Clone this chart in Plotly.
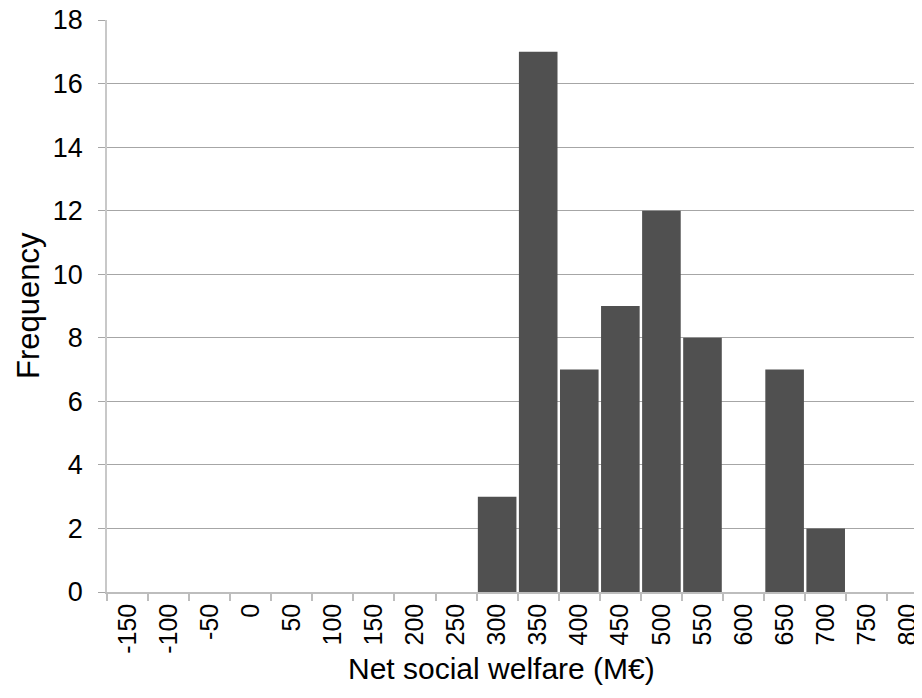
import plotly.graph_objects as go

categories = ["-150", "-100", "-50", "0", "50", "100", "150", "200", "250", "300",
              "350", "400", "450", "500", "550", "600", "650", "700", "750", "800"]
frequency = [0, 0, 0, 0, 0, 0, 0, 0, 0, 3, 17, 7, 9, 12, 8, 0, 7, 2, 0, 0]
y_ticks = [0, 2, 4, 6, 8, 10, 12, 14, 16, 18]
x_title = "Net social welfare (M€)"
y_title = "Frequency"

FONT = "Liberation Sans, Arial, Helvetica, sans-serif"
W, H = 922, 698
OFF = 8  # page body margin offset
L, R, T, B = 99, 0, 12, 114

fig = go.Figure(go.Bar(
    x=categories, y=frequency,
    marker=dict(color="#505050", line=dict(width=0)),
))

fig.update_layout(
    width=W, height=H,
    margin=dict(l=L, r=R, t=T, b=B, autoexpand=False),
    plot_bgcolor="white", paper_bgcolor="white",
    bargap=0.06,
    showlegend=False,
    font=dict(family=FONT, color="black"),
)

fig.update_xaxes(
    type="category",
    automargin=False,
    range=[-0.5, 19.54],
    tickangle=-90,
    tickson="boundaries",
    ticks="outside", ticklen=7, tickcolor="#bdbdbd", tickwidth=1.5,
    showline=True, linecolor="#bdbdbd", linewidth=1.5,
    showgrid=False,
    ticklabeloverflow="allow",
    tickfont=dict(size=25, family=FONT),
)

fig.update_yaxes(
    automargin=False,
    range=[0, 18],
    tickvals=y_ticks,
    ticks="outside", ticklen=7, tickcolor="#a6a6a6", tickwidth=1,
    ticklabelstandoff=10,
    ticklabeloverflow="allow",
    showline=True, linecolor="#c8c8c8", linewidth=1.5,
    showgrid=True, gridcolor="#a6a6a6", gridwidth=1,
    zeroline=False,
    tickfont=dict(size=27, family=FONT),
)

plot_w = W - L - R
plot_h = H - T - B
fig.add_annotation(
    text=x_title, xref="paper", yref="paper",
    x=(501 - OFF - L) / plot_w, y=-(668 - OFF - (T + plot_h)) / plot_h,
    showarrow=False, xanchor="center", yanchor="middle",
    font=dict(size=30, family=FONT),
)
fig.add_annotation(
    text=y_title, xref="paper", yref="paper",
    x=(28 - OFF - L) / plot_w, y=(T + plot_h - (306 - OFF)) / plot_h,
    showarrow=False, xanchor="center", yanchor="middle", textangle=-90,
    font=dict(size=31, family=FONT),
)

fig.write_html("out.html")
